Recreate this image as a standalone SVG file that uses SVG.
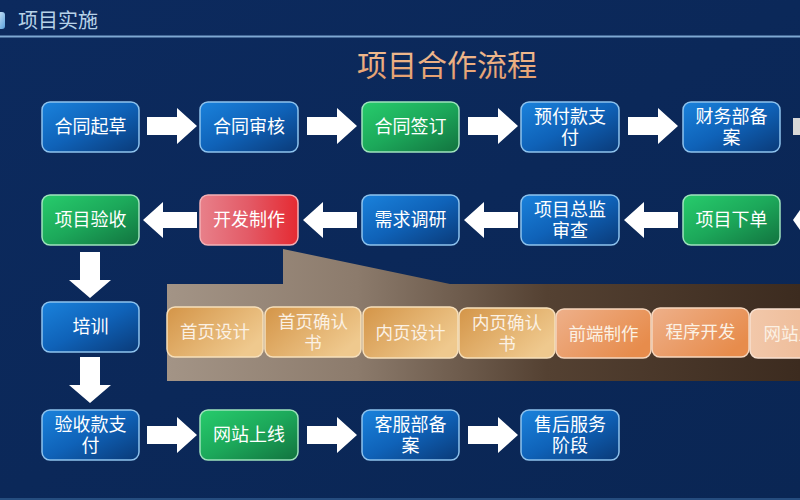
<svg xmlns="http://www.w3.org/2000/svg" width="800" height="500" viewBox="0 0 800 500">
<defs>
<linearGradient id="bg" x1="0" y1="0" x2="1" y2="1">
<stop offset="0" stop-color="#0c2a5e"/><stop offset="1" stop-color="#0a2654"/>
</linearGradient>
<linearGradient id="gBlue" x1="0" y1="0" x2="1" y2="1">
<stop offset="0" stop-color="#1a82dc"/><stop offset="0.5" stop-color="#0f62b8"/><stop offset="1" stop-color="#0a3a78"/>
</linearGradient>
<linearGradient id="gGreen" x1="0" y1="0" x2="1" y2="1">
<stop offset="0" stop-color="#27cc6c"/><stop offset="0.5" stop-color="#1ca85a"/><stop offset="1" stop-color="#12733f"/>
</linearGradient>
<linearGradient id="gRed" x1="0" y1="0" x2="1" y2="0">
<stop offset="0" stop-color="#e8808a"/><stop offset="0.5" stop-color="#e35a66"/><stop offset="1" stop-color="#e52a32"/>
</linearGradient>
<linearGradient id="gBrown" x1="0" y1="0" x2="1" y2="0">
<stop offset="0" stop-color="#a39486"/><stop offset="0.3" stop-color="#8c7b6c"/><stop offset="0.6" stop-color="#544132"/><stop offset="1" stop-color="#3c2b1f"/>
</linearGradient>
<linearGradient id="gGold" x1="0" y1="0" x2="1" y2="0.6">
<stop offset="0" stop-color="#d49548"/><stop offset="1" stop-color="#efc98e"/>
</linearGradient>
<linearGradient id="gOrange" x1="0" y1="0" x2="1" y2="0.6">
<stop offset="0" stop-color="#eeb08a"/><stop offset="1" stop-color="#e78c4c"/>
</linearGradient>
<linearGradient id="gPeach" x1="0" y1="0" x2="1" y2="0">
<stop offset="0" stop-color="#f2c8aa"/><stop offset="1" stop-color="#ecb48e"/>
</linearGradient>
<linearGradient id="gTitle" x1="0" y1="0" x2="0" y2="1">
<stop offset="0" stop-color="#f3c39a"/><stop offset="1" stop-color="#e39a68"/>
</linearGradient>
<linearGradient id="gIcon" x1="0" y1="0" x2="1" y2="1">
<stop offset="0" stop-color="#d8ecfb"/><stop offset="1" stop-color="#5aa0dc"/>
</linearGradient>
</defs>
<style>
.t{font-family:"Noto Sans CJK SC","Noto Sans",sans-serif;font-size:18px;fill:#ffffff;text-anchor:middle}
.ot{font-family:"Noto Sans CJK SC","Noto Sans",sans-serif;font-size:17.5px;fill:#fbf1e4;text-anchor:middle}
.blue{fill:url(#gBlue);stroke:#8ec3ee;stroke-width:1.5}
.green{fill:url(#gGreen);stroke:#9fe4bd;stroke-width:1.5}
.red{fill:url(#gRed);stroke:#f4b0b5;stroke-width:1.5}
.gold{fill:url(#gGold);stroke:#f6dfbb;stroke-width:1.5}
.orange{fill:url(#gOrange);stroke:#f6d6bd;stroke-width:1.5}
.peach{fill:url(#gPeach);stroke:#f8e0cf;stroke-width:1.5}
.arr{fill:#ffffff}
</style>
<rect x="0" y="0" width="800" height="500" fill="url(#bg)"/>
<rect x="-4" y="12" width="9" height="17" rx="3" fill="url(#gIcon)"/>
<text x="18" y="28" style="font-family:'Noto Sans CJK SC',sans-serif;font-size:20px;fill:#b7d2e8">项目实施</text>
<line x1="0" y1="36.5" x2="800" y2="36.5" stroke="#7ea8d2" stroke-width="2"/>
<line x1="0" y1="499" x2="800" y2="499" stroke="#2f5a8c" stroke-width="1.5"/>
<text x="447" y="76" style="font-family:'Noto Sans CJK SC',sans-serif;font-size:30px;fill:url(#gTitle);text-anchor:middle">项目合作流程</text>

<g id="callout">
<polygon points="167,284 283,284 283,249 450,284 800,284 800,381 167,381" fill="url(#gBrown)"/>
</g>

<g id="connectors">
<path class="arr" d="M147,117 H177 V108 L197,126 L177,144 V135 H147 Z"/>
<path class="arr" d="M307,117 H337 V108 L357,126 L337,144 V135 H307 Z"/>
<path class="arr" d="M468,117 H498 V108 L518,126 L498,144 V135 H468 Z"/>
<path class="arr" d="M628,117 H658 V108 L678,126 L658,144 V135 H628 Z"/>
<rect x="793" y="118" width="7" height="17" fill="#d8d8d8"/>
<path class="arr" d="M197,212 H163 V202 L143,220 L163,238 V228 H197 Z"/>
<path class="arr" d="M357,212 H323 V202 L303,220 L323,238 V228 H357 Z"/>
<path class="arr" d="M518,212 H484 V202 L464,220 L484,238 V228 H518 Z"/>
<path class="arr" d="M678,212 H644 V202 L624,220 L644,238 V228 H678 Z"/>
<path class="arr" d="M800,210 V230 L793,220 Z"/>
<path class="arr" d="M80,252 H100 V280 H111 L90,298 L69,280 H80 Z"/>
<path class="arr" d="M80,357 H100 V385 H111 L90,403 L69,385 H80 Z"/>
<path class="arr" d="M147,426 H177 V417 L197,435 L177,453 V444 H147 Z"/>
<path class="arr" d="M307,426 H337 V417 L357,435 L337,453 V444 H307 Z"/>
<path class="arr" d="M468,426 H498 V417 L518,435 L498,453 V444 H468 Z"/>
</g>

<g id="n1"><rect class="blue" x="42" y="102" width="97" height="50" rx="8"/><text class="t" x="90.5" y="133">合同起草</text></g>
<g id="n2"><rect class="blue" x="200" y="102" width="98" height="50" rx="8"/><text class="t" x="249" y="133">合同审核</text></g>
<g id="n3"><rect class="green" x="362" y="102" width="97" height="50" rx="8"/><text class="t" x="410.5" y="133">合同签订</text></g>
<g id="n4"><rect class="blue" x="521" y="102" width="98" height="50" rx="8"/><text class="t" x="570" y="123">预付款支</text><text class="t" x="570" y="144">付</text></g>
<g id="n5"><rect class="blue" x="683" y="102" width="97" height="50" rx="8"/><text class="t" x="731.5" y="123">财务部备</text><text class="t" x="731.5" y="144">案</text></g>

<g id="n6"><rect class="green" x="42" y="195" width="97" height="50" rx="8"/><text class="t" x="90.5" y="226">项目验收</text></g>
<g id="n7"><rect class="red" x="200" y="195" width="98" height="50" rx="8"/><text class="t" x="249" y="226">开发制作</text></g>
<g id="n8"><rect class="blue" x="362" y="195" width="97" height="50" rx="8"/><text class="t" x="410.5" y="226">需求调研</text></g>
<g id="n9"><rect class="blue" x="521" y="195" width="98" height="50" rx="8"/><text class="t" x="570" y="216">项目总监</text><text class="t" x="570" y="237">审查</text></g>
<g id="n10"><rect class="green" x="683" y="195" width="97" height="50" rx="8"/><text class="t" x="731.5" y="226">项目下单</text></g>

<g id="n11"><rect class="blue" x="42" y="302" width="97" height="50" rx="8"/><text class="t" x="90.5" y="333">培训</text></g>

<g id="n12"><rect class="blue" x="42" y="410" width="97" height="50" rx="8"/><text class="t" x="90.5" y="431">验收款支</text><text class="t" x="90.5" y="452">付</text></g>
<g id="n13"><rect class="green" x="200" y="410" width="98" height="50" rx="8"/><text class="t" x="249" y="441">网站上线</text></g>
<g id="n14"><rect class="blue" x="362" y="410" width="97" height="50" rx="8"/><text class="t" x="410.5" y="431">客服部备</text><text class="t" x="410.5" y="452">案</text></g>
<g id="n15"><rect class="blue" x="521" y="410" width="98" height="50" rx="8"/><text class="t" x="570" y="431">售后服务</text><text class="t" x="570" y="452">阶段</text></g>

<g id="s1"><rect class="gold" x="167" y="307" width="96" height="50" rx="8"/><text class="ot" x="215" y="338">首页设计</text></g>
<g id="s2"><rect class="gold" x="265" y="307" width="96" height="50" rx="8"/><text class="ot" x="313" y="328">首页确认</text><text class="ot" x="313" y="349">书</text></g>
<g id="s3"><rect class="gold" x="363" y="307" width="95" height="51" rx="8"/><text class="ot" x="410.5" y="338.5">内页设计</text></g>
<g id="s4"><rect class="gold" x="459" y="308" width="96" height="50" rx="8"/><text class="ot" x="507" y="329">内页确认</text><text class="ot" x="507" y="350">书</text></g>
<g id="s5"><rect class="orange" x="556" y="309" width="95" height="49" rx="8"/><text class="ot" x="603.5" y="339.5">前端制作</text></g>
<g id="s6"><rect class="orange" x="652" y="308" width="97" height="49" rx="8"/><text class="ot" x="700.5" y="338">程序开发</text></g>
<g id="s7"><rect class="peach" x="750" y="309" width="97" height="49" rx="8"/><text class="ot" x="798.5" y="339.5">网站上线</text></g>
</svg>
